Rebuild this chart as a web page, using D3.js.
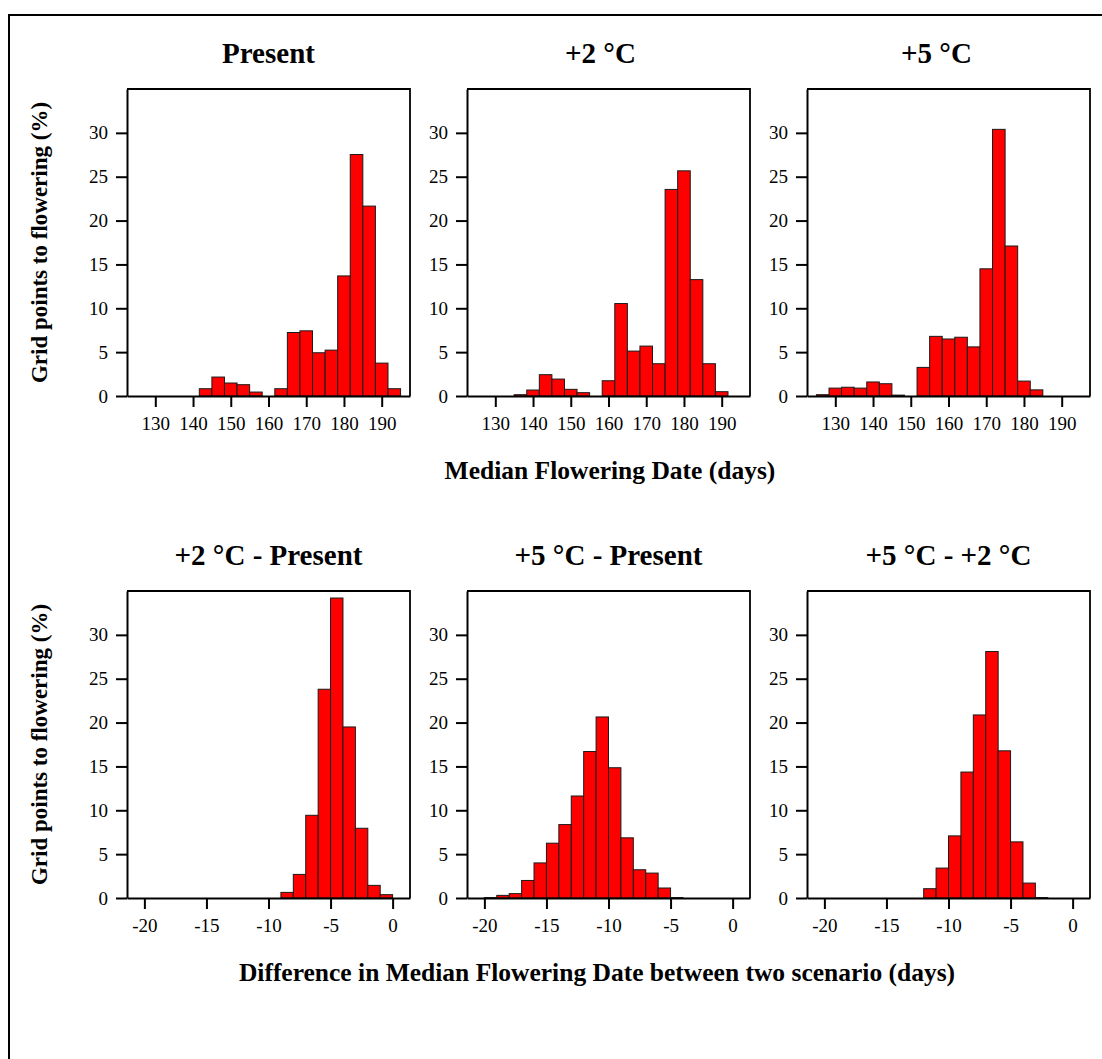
<!DOCTYPE html>
<html>
<head>
<meta charset="utf-8">
<script src="https://cdn.jsdelivr.net/npm/d3@7/dist/d3.min.js"></script>
<style>
  html, body { margin: 0; padding: 0; background: #fff; }
  svg { display: block; font-family: "Liberation Serif", "Times New Roman", serif; }
</style>
</head>
<body>
<svg id="chart" width="1102" height="1059"></svg>
<script>
// Median flowering date histograms (% of grid points), bins of 10/3 days starting at day 125
const dayBinOrigin = 125;
const dayBinWidth = 10 / 3;
const presentPct = [0, 0, 0, 0, 0, 0.83, 2.16, 1.48, 1.29, 0.45, 0, 0.83, 7.24, 7.43, 4.93, 5.23, 13.69, 27.53, 21.65, 3.75, 0.83];
const plus2Pct   = [0, 0, 0, 0.15, 0.68, 2.43, 1.93, 0.76, 0.38, 0, 1.74, 10.54, 5.12, 5.69, 3.68, 23.55, 25.67, 13.27, 3.68, 0.49, 0];
const plus5Pct   = [0.15, 0.9, 1.0, 0.9, 1.6, 1.4, 0.1, 0, 3.26, 6.8, 6.5, 6.7, 5.6, 14.5, 30.4, 17.1, 1.7, 0.7, 0, 0, 0];

// Differences between scenarios (days), 1-day bins starting at -20
const diffBinOrigin = -20;
const diffBinWidth = 1;
const diff2PresentPct = [0, 0, 0, 0, 0, 0, 0, 0, 0, 0, 0, 0.64, 2.69, 9.43, 23.8, 34.2, 19.5, 7.95, 1.44, 0.38];
const diff5PresentPct = [0.05, 0.3, 0.5, 2.0, 4.0, 6.25, 8.37, 11.63, 16.7, 20.64, 14.85, 6.86, 3.22, 2.84, 1.14, 0.05, 0, 0, 0, 0];
const diff52Pct       = [0, 0, 0, 0, 0, 0, 0, 0, 1.06, 3.41, 7.08, 14.36, 20.87, 28.1, 16.78, 6.4, 1.7, 0.05, 0, 0];

// Titles and tick labels
const topTitles = ["Present", "+2 \u00B0C", "+5 \u00B0C"];
const bottomTitles = ["+2 \u00B0C - Present", "+5 \u00B0C - Present", "+5 \u00B0C - +2 \u00B0C"];
const dayTicks = [130, 140, 150, 160, 170, 180, 190];
const diffTicks = [-20, -15, -10, -5, 0];
const pctTicks = [0, 5, 10, 15, 20, 25, 30];
const yLabel = "Grid points to flowering (%)";
const topXLabel = "Median Flowering Date (days)";
const bottomXLabel = "Difference in Median Flowering Date between two scenario (days)";

const svg = d3.select("#chart");

// outer frame (top and left edges)
svg.append("path")
  .attr("d", "M9,1059 L9,15 L1102,15")
  .attr("fill", "none").attr("stroke", "#000").attr("stroke-width", 2);

const panelLefts = [127, 467, 807];
const panelW = 283;
const plainNum = d => String(d); // hyphen-minus for negatives
const rows = [
  { top: 89, bottom: 396, domain: [122.5, 197.5], ticks: dayTicks, origin: dayBinOrigin, width: dayBinWidth,
    series: [presentPct, plus2Pct, plus5Pct], titles: topTitles, titleY: 63, titleDx: [0, -8, -12] },
  { top: 591, bottom: 898, domain: [-21.4, 1.4], ticks: diffTicks, origin: diffBinOrigin, width: diffBinWidth,
    series: [diff2PresentPct, diff5PresentPct, diff52Pct], titles: bottomTitles, titleY: 565, titleDx: [0, 0, 0] }
];

rows.forEach(row => {
  const y = d3.scaleLinear().domain([0, 35]).range([row.bottom, row.top]);
  row.series.forEach((vals, i) => {
    const left = panelLefts[i];
    const x = d3.scaleLinear().domain(row.domain).range([left, left + panelW]);
    const g = svg.append("g");

    // top and right sides of the plot box
    g.append("path")
      .attr("d", `M${left},${row.top} L${left + panelW},${row.top} L${left + panelW},${row.bottom}`)
      .attr("fill", "none").attr("stroke", "#000").attr("stroke-width", 1.8);

    // histogram bars
    const bins = vals.map((v, k) => ({ x0: row.origin + k * row.width, x1: row.origin + (k + 1) * row.width, v }))
      .filter(b => b.v > 0);
    g.selectAll("rect.bar").data(bins).join("rect")
      .attr("class", "bar")
      .attr("x", b => x(b.x0))
      .attr("width", b => x(b.x1) - x(b.x0))
      .attr("y", b => y(b.v))
      .attr("height", b => y(0) - y(b.v))
      .attr("fill", "#ff0000")
      .attr("stroke", "#1a1a1a")
      .attr("stroke-width", 1);

    // axes
    const yAxis = g.append("g").attr("transform", `translate(${left},0)`)
      .call(d3.axisLeft(y).tickValues(pctTicks).tickFormat(plainNum).tickSize(11).tickSizeOuter(0).tickPadding(8));
    const xAxis = g.append("g").attr("transform", `translate(0,${row.bottom})`)
      .call(d3.axisBottom(x).tickValues(row.ticks).tickFormat(plainNum).tickSize(11).tickSizeOuter(0).tickPadding(10));
    [yAxis, xAxis].forEach(a => {
      a.selectAll("path.domain").attr("stroke", "#000").attr("stroke-width", 2);
      a.selectAll(".tick line").attr("stroke", "#000").attr("stroke-width", 2);
      a.selectAll(".tick text").attr("fill", "#000")
        .style("font-family", "Liberation Serif").style("font-size", "19px");
    });

    // panel title
    svg.append("text")
      .attr("x", left + panelW / 2 + row.titleDx[i])
      .attr("y", row.titleY)
      .attr("text-anchor", "middle")
      .style("font-size", "29px").style("font-weight", "bold")
      .text(row.titles[i]);
  });

  // shared y-axis label
  svg.append("text")
    .attr("transform", `translate(47,${(row.top + row.bottom) / 2}) rotate(-90)`)
    .attr("text-anchor", "middle")
    .style("font-size", "23px").style("font-weight", "bold")
    .text(yLabel);
});

// x-axis labels
svg.append("text")
  .attr("x", 610).attr("y", 479)
  .attr("text-anchor", "middle")
  .style("font-size", "25.5px").style("font-weight", "bold")
  .text(topXLabel);

svg.append("text")
  .attr("x", 597).attr("y", 981)
  .attr("text-anchor", "middle")
  .style("font-size", "25.5px").style("font-weight", "bold")
  .text(bottomXLabel);
</script>
</body>
</html>
